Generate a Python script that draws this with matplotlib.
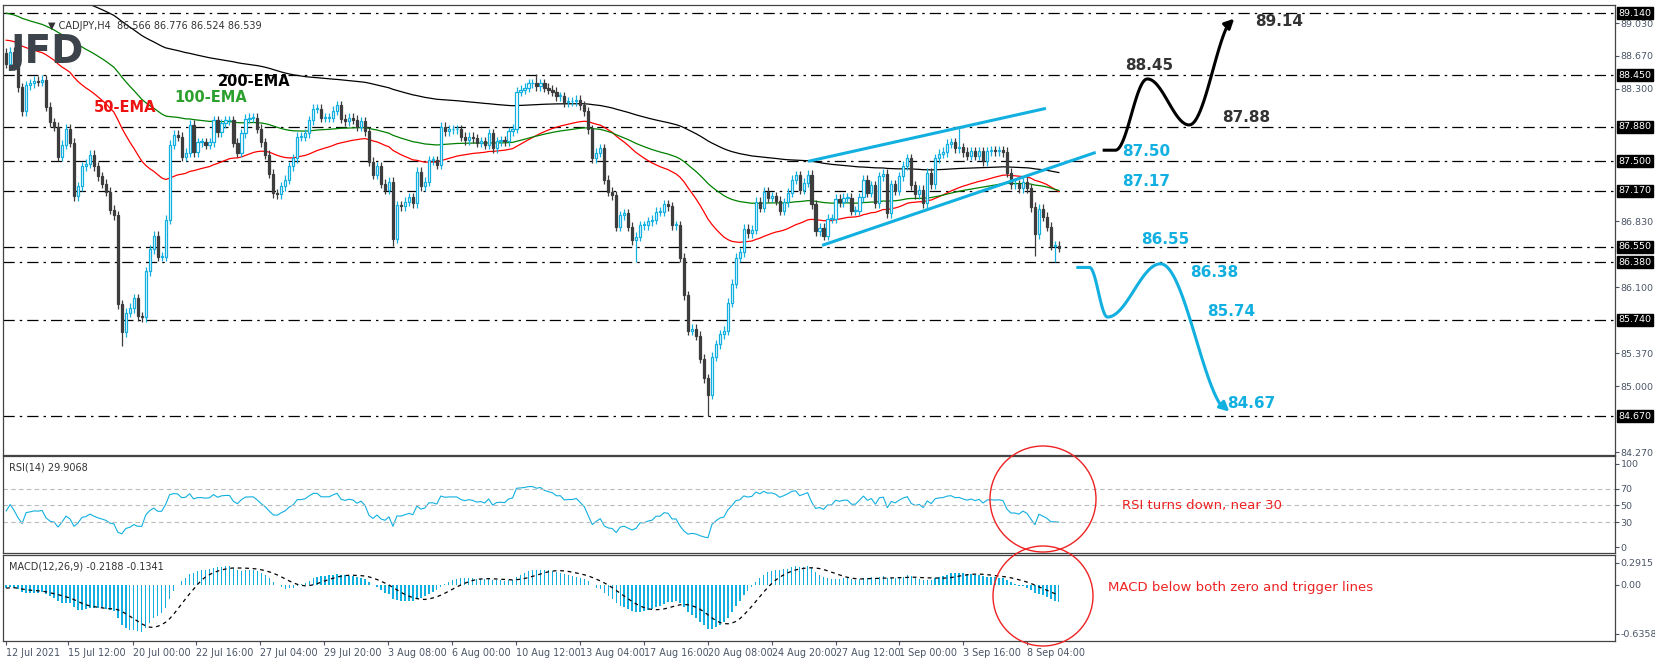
import numpy as np
import matplotlib
matplotlib.use("Agg")
import matplotlib.pyplot as plt
from matplotlib.patches import Ellipse
from matplotlib.path import Path
from matplotlib.patches import PathPatch

# ---------------- data ----------------
closes_jul = [88.58, 88.71, 88.56, 88.32, 88.05, 88.34, 88.36, 88.39, 88.38, 88.40,
              88.10, 87.93, 87.88, 87.55, 87.68, 87.86, 87.70, 87.11, 87.22, 87.44,
              87.47, 87.57, 87.44, 87.33, 87.25, 87.16, 86.96, 86.90, 85.91, 85.60,
              85.82, 85.87, 85.98, 85.78, 85.77, 86.28, 86.52, 86.67, 86.44, 86.44,
              86.85, 87.68, 87.79, 87.77, 87.55, 87.59, 87.90, 87.60, 87.71, 87.71,
              87.68, 87.71, 87.95, 87.82, 87.92, 87.95, 87.95, 87.70, 87.59, 87.81,
              87.97, 87.98, 87.98, 87.86, 87.71, 87.57, 87.36, 87.14, 87.13, 87.22,
              87.29, 87.44, 87.53, 87.77, 87.77, 87.81, 87.95, 88.08, 88.08, 87.98,
              87.98, 87.98, 88.06, 88.12, 87.97]
closes_aug1 = [87.94, 87.98, 87.96, 87.88, 87.94, 87.83, 87.49, 87.35, 87.44, 87.25,
               87.18, 87.27, 86.64, 87.01, 87.00, 87.05, 87.10, 87.03, 87.38, 87.22,
               87.27, 87.51, 87.51, 87.46, 87.88, 87.83, 87.85, 87.85, 87.85, 87.77,
               87.73, 87.77, 87.75, 87.70, 87.72, 87.68, 87.81, 87.64, 87.72, 87.73,
               87.72, 87.83, 87.86, 88.27, 88.29, 88.31, 88.36, 88.36, 88.33, 88.36,
               88.31, 88.29, 88.27, 88.22, 88.22, 88.15, 88.16, 88.16, 88.18, 88.12,
               88.05, 87.85, 87.53, 87.59, 87.64, 87.29, 87.16, 87.12, 86.77, 86.90,
               86.92, 86.77, 86.62, 86.66, 86.79, 86.79, 86.83, 86.85, 86.94, 86.94,
               87.02, 87.00]
closes_aug2 = [86.79, 86.79, 86.43, 86.01, 85.62, 85.64, 85.56, 85.31, 85.09, 84.91,
               85.33, 85.47, 85.58, 85.62, 85.93, 86.14, 86.43, 86.49, 86.75, 86.70,
               86.74, 87.05, 86.98, 87.16, 87.09, 87.11, 87.06, 86.95]
closes_sep1 = [87.04, 87.15, 87.29, 87.34, 87.18, 87.26, 87.35, 87.02, 86.72, 86.76,
               86.67, 86.86, 86.86, 87.08, 87.04, 87.09, 87.09, 86.95, 86.95, 87.10,
               87.29, 87.15, 87.23, 87.03, 87.33, 87.36, 86.92, 87.24, 87.17, 87.33,
               87.45, 87.53, 87.23, 87.13, 87.18, 87.03, 87.37, 87.24, 87.53, 87.58,
               87.60, 87.69, 87.71, 87.64, 87.65, 87.60, 87.56, 87.61, 87.56, 87.61,
               87.50, 87.61, 87.62, 87.61, 87.62, 87.60, 87.37, 87.24]
closes_sep2 = [87.24, 87.20, 87.27, 87.20, 86.99, 86.69, 86.97, 86.88, 86.77, 86.56,
               86.56, 86.539]
first_open = 88.70
wick = 0.05
extreme_lows = {29: 85.45, 97: 86.56, 158: 86.38, 176: 84.67, 258: 86.45, 263: 86.38}
extreme_highs = {133: 88.47, 239: 87.88}

tick_idx = [0, 15.5, 31.8, 47.6, 63.7, 79.7, 95.7, 111.8, 127.8, 144, 160, 176, 192,
            208, 224, 240, 256]
tick_labels = ["12 Jul 2021", "15 Jul 12:00", "20 Jul 00:00", "22 Jul 16:00",
               "27 Jul 04:00", "29 Jul 20:00", "3 Aug 08:00", "6 Aug 00:00",
               "10 Aug 12:00", "13 Aug 04:00", "17 Aug 16:00", "20 Aug 08:00",
               "24 Aug 20:00", "27 Aug 12:00", "1 Sep 00:00", "3 Sep 16:00",
               "8 Sep 04:00"]
levels = [89.14, 88.45, 87.88, 87.50, 87.17, 86.55, 86.38, 85.74, 84.67]
price_ticks = [89.03, 88.67, 88.30, 86.83, 86.10, 85.37, 85.00, 84.27]
ema_seeds = {50: 88.85, 100: 89.15, 200: 89.55}
macd_seed = (88.64, 88.68)

# ---------------- computation ----------------
close = np.array(closes_jul + closes_aug1 + closes_aug2 + closes_sep1 + closes_sep2)
N = len(close)
opn = np.concatenate([[first_open], close[:-1]])
high = np.maximum(opn, close) + wick
low = np.minimum(opn, close) - wick
for k, v in extreme_lows.items():
    if k < N: low[k] = v
for k, v in extreme_highs.items():
    if k < N: high[k] = v
x = np.arange(N)

def ema(series, n, seed):
    a = 2.0 / (n + 1)
    out = np.empty(len(series)); e = seed
    for i, v in enumerate(series):
        e = e + a * (v - e); out[i] = e
    return out

e50 = ema(close, 50, ema_seeds[50]); e100 = ema(close, 100, ema_seeds[100]); e200 = ema(close, 200, ema_seeds[200])
macd = ema(close, 12, macd_seed[0]) - ema(close, 26, macd_seed[1])
sig = np.array([macd[max(0, i - 8):i + 1].mean() for i in range(N)])
d = np.diff(np.concatenate([[first_open], close]))
ag, al = 0.03, 0.03
rsi = np.empty(N)
for i, v in enumerate(d):
    ag = (ag * 13 + max(v, 0)) / 14; al = (al * 13 + max(-v, 0)) / 14
    rsi[i] = 100 - 100 / (1 + ag / al)

# ---------------- plotting ----------------
W, H = 1655, 662
fig = plt.figure(figsize=(W / 100, H / 100), dpi=100)
L, R = 3 / W, 1615 / W
def fy(y): return 1 - y / H
ax = fig.add_axes([L, fy(455), R - L, fy(5) - fy(455)])
ax2 = fig.add_axes([L, fy(553), R - L, fy(456) - fy(553)])
ax3 = fig.add_axes([L, fy(641), R - L, fy(555) - fy(641)])
CY = '#12b0e0'; DK = '#3d3d3d'; TXT = '#4a5566'
xl = (-0.8, 403.5)
for a in (ax, ax2, ax3):
    a.set_xlim(*xl)
    a.yaxis.tick_right()
    a.tick_params(axis='y', labelsize=6.8, colors=TXT, length=3, pad=1)
    a.tick_params(axis='x', length=0)
    for s in a.spines.values():
        s.set_color('#444'); s.set_linewidth(0.9)
    a.set_xticks([])

# candles
up = close >= opn
ax.vlines(x[up], low[up], high[up], color=CY, lw=0.9, zorder=3)
ax.vlines(x[~up], low[~up], high[~up], color=DK, lw=0.9, zorder=3)
ax.bar(x[up], np.maximum(close[up] - opn[up], 0.008), bottom=opn[up], width=0.55,
       facecolor='white', edgecolor=CY, lw=0.9, zorder=4)
ax.bar(x[~up], np.maximum(opn[~up] - close[~up], 0.008), bottom=close[~up], width=0.55,
       facecolor=DK, edgecolor=DK, lw=0.9, zorder=4)
ax.plot(x, e50, color='red', lw=0.9, zorder=2)
ax.plot(x, e100, color='green', lw=0.9, zorder=2)
ax.plot(x, e200, color='black', lw=0.9, zorder=2)
for lv in levels:
    ax.axhline(lv, color='black', lw=0.9, ls=(0, (9, 4, 2, 4)), zorder=1)
ax.set_ylim(84.24, 89.23)
ax.set_yticks(price_ticks)
ax.set_yticklabels([f"{t:.3f}" for t in price_ticks])
for lv in levels:
    ax.text(1.002, lv, f"{lv:.3f}", transform=ax.get_yaxis_transform(), fontsize=6.8,
            color='white', va='center', ha='left',
            bbox=dict(boxstyle='square,pad=0.15', fc='black', ec='black'))

# wedge
ax.plot([201.5, 260.4], [87.50, 88.08], color=CY, lw=2.2, zorder=5)
ax.plot([205, 272.9], [86.57, 87.59], color=CY, lw=2.2, zorder=5)

# scenario paths
def curve(pts, color):
    codes = [Path.MOVETO] + [Path.LINETO] * (len(pts) - 1)
    ax.add_patch(PathPatch(Path(pts, codes), fc='none', ec=color, lw=2.2, zorder=6, clip_on=False))
tt = np.linspace(0, 1, 40)
def smooth(p0, p1, p2, p3, p4):
    seg = []
    for (xa, ya), (xb, yb) in zip([p1, p2, p3], [p2, p3, p4]):
        s = (1 - np.cos(np.pi * tt)) / 2
        seg += list(zip(xa + (xb - xa) * tt, ya + (yb - ya) * s))
    return [p0] + seg
blk = smooth((275, 87.62), (278.2, 87.62), (286.2, 88.41), (296.7, 87.90), (308.5, 89.10))
curve(blk[:-6], 'black')
ax.annotate('', xy=blk[-1], xytext=blk[-8], arrowprops=dict(arrowstyle='-|>', color='black', lw=2.2,
            mutation_scale=14), annotation_clip=False)
cyp = smooth((268.4, 86.32), (271.7, 86.32), (276.2, 85.77), (289.5, 86.36), (307.3, 84.70))
curve(cyp[:-6], CY)
ax.annotate('', xy=cyp[-1], xytext=cyp[-8], arrowprops=dict(arrowstyle='-|>', color=CY, lw=2.2,
            mutation_scale=14), annotation_clip=False)

# RSI
ax2.plot(x, rsi, color=CY, lw=0.8)
for lv in (70, 50, 30):
    ax2.axhline(lv, color='#bbbbbb', lw=0.8, ls=(0, (4, 3)))
ax2.set_ylim(-7, 109)
ax2.set_yticks([100, 70, 50, 30, 0])
ax2.text(0.004, 0.93, "RSI(14) 29.9068", transform=ax2.transAxes, fontsize=7, color='#333', va='top')

# MACD
ax3.bar(x, macd, width=0.35, color=CY)
ax3.plot(x, sig, color='black', lw=0.9, ls=(0, (3, 3)))
ax3.set_ylim(-0.73, 0.39)
ax3.set_yticks([0.2915, 0.0, -0.6358])
ax3.set_yticklabels(["0.2915", "0.00", "-0.6358"])
ax3.text(0.004, 0.93, "MACD(12,26,9) -0.2188 -0.1341", transform=ax3.transAxes, fontsize=7, color='#333', va='top')
ax3.set_xticks(tick_idx)
ax3.set_xticklabels(tick_labels, ha='left', fontsize=6.9, color=TXT)
ax3.tick_params(axis='x', length=3, colors=TXT, pad=2)

# text annotations (figure pixels)
def ft(px, py, s, **kw):
    fig.text(px / W, fy(py), s, va='center', **kw)
ft(48, 26, "▼ CADJPY,H4  86.566 86.776 86.524 86.539", fontsize=7, color='#333')
ft(10, 52, "JFD", fontsize=28, fontweight='bold', color='#3d434a')
ft(218, 81, "200-EMA", fontsize=10.5, fontweight='bold', color='black')
ft(174, 98, "100-EMA", fontsize=10.5, fontweight='bold', color='#2ca02c')
ft(94, 108, "50-EMA", fontsize=10.5, fontweight='bold', color='#ee1111')
ft(1125, 66, "88.45", fontsize=11, fontweight='bold', color='#333')
ft(1255, 21, "89.14", fontsize=11, fontweight='bold', color='#333')
ft(1222, 118, "87.88", fontsize=11, fontweight='bold', color='#333')
for px, py, s in [(1122, 152, "87.50"), (1122, 181, "87.17"), (1141, 239, "86.55"),
                  (1190, 273, "86.38"), (1207, 311, "85.74"), (1227, 404, "84.67")]:
    ft(px, py, s, fontsize=11, fontweight='bold', color=CY)
ft(1122, 505, "RSI turns down, near 30", fontsize=9.5, color='#ee2222')
ft(1108, 588, "MACD below both zero and trigger lines", fontsize=9.5, color='#ee2222')
for cx, cy, r in [(1043, 499, 53), (1043, 596, 50)]:
    fig.add_artist(Ellipse((cx / W, fy(cy)), 2 * r / W, 2 * r / H, transform=fig.transFigure,
                           fc='none', ec='#ee2222', lw=1.0))

fig.savefig("out.png", dpi=100)
